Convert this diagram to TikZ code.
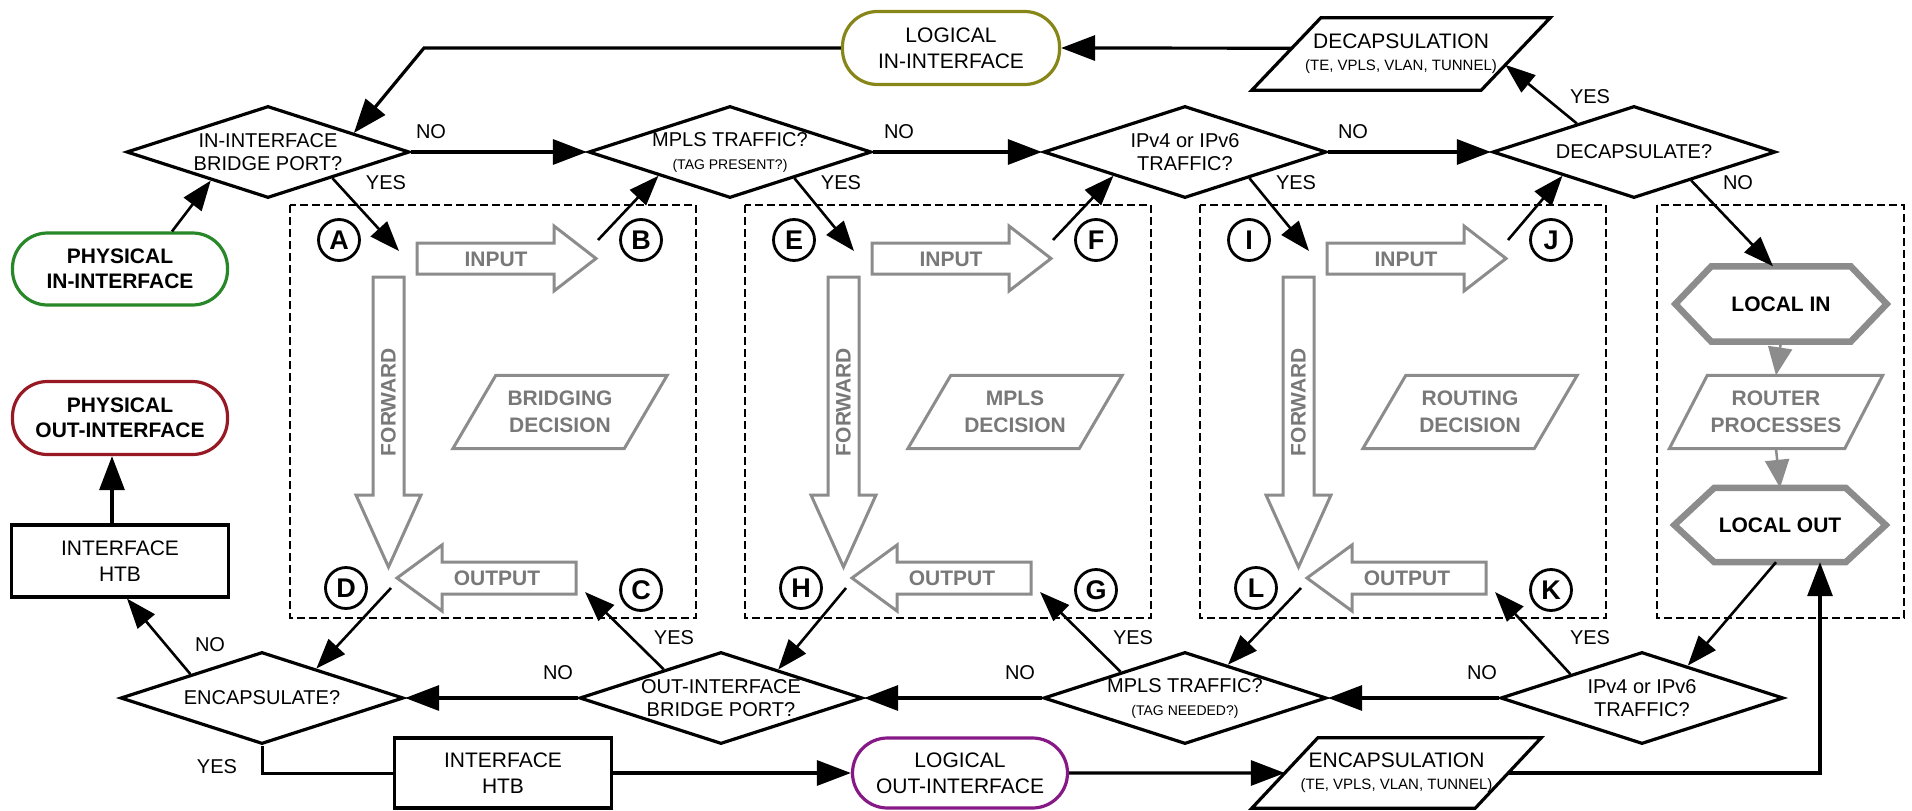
\documentclass[tikz,border=0pt]{standalone}
\usepackage{fontspec}
\setmainfont{Liberation Sans}
\usetikzlibrary{shapes.geometric,arrows.meta,calc}
\definecolor{gr}{RGB}{140,140,140}
\definecolor{grt}{RGB}{120,120,120}
\definecolor{cgreen}{RGB}{40,135,40}
\definecolor{cred}{RGB}{150,25,35}
\definecolor{colive}{RGB}{135,135,25}
\definecolor{cpurple}{RGB}{135,25,135}
\begin{document}
\begin{tikzpicture}[x=1pt,y=-1pt,
  txt/.style={font=\fontsize{20}{23}\selectfont, align=center, inner sep=0pt},
  xdia/.style={txt, shape=diamond, draw, line width=3.2pt, minimum width=283pt, minimum height=92pt, shape aspect=3.07},
  xterm/.style={txt, font=\fontsize{21}{26}\selectfont, draw, line width=3.2pt, rounded corners=35pt, minimum width=215pt, minimum height=72pt},
  xbox/.style={txt, font=\fontsize{21}{26}\selectfont, draw, line width=3.2pt, minimum width=217pt, minimum height=71pt},
  ptxt/.style={txt, font=\fontsize{21}{22}\selectfont},
  pline/.style={draw, line width=3.2pt, line join=miter},
  gline/.style={draw=gr, line width=3pt, line join=miter},
  hexline/.style={draw=gr, line width=6.5pt, line join=miter},
  gtxt/.style={txt, text=grt, font=\bfseries\fontsize{21}{27}\selectfont},
  ltr/.style={circle, draw, line width=2.8pt, minimum size=41pt, inner sep=0pt, font=\bfseries\fontsize{27}{27}\selectfont},
  arr/.style={line width=3.2pt, -{Triangle[length=34pt,width=25pt]}},
  arrt/.style={line width=2.6pt, -{Triangle[length=30pt,width=22pt]}},
  plainline/.style={line width=3pt},
  garr/.style={draw=gr, line width=2.5pt, -{Triangle[length=28pt,width=24pt]}, color=gr},
  lbl/.style={font=\fontsize{20}{22}\selectfont, inner sep=0pt},
  dbox/.style={draw, line width=2.8pt, dash pattern=on 8pt off 4pt}
]
\useasboundingbox (0,0) rectangle (1912,811);

% ---------- dashed frames ----------
\draw[dbox] (290,205) rectangle (696,618);
\draw[dbox] (745,205) rectangle (1151,618);
\draw[dbox] (1200,205) rectangle (1606,618);
\draw[dbox] (1657,205) rectangle (1904,618);

% ---------- the three decision columns ----------
\foreach \o/\n/\la/\lb/\lc/\ld/\dec in {
  0/1/A/B/C/D/{BRIDGING\\DECISION},
  455/2/E/F/G/H/{MPLS\\DECISION},
  910/3/I/J/K/L/{ROUTING\\DECISION}} {
  % input arrow
  \draw[gline] (417+\o,243) -- (554+\o,243) -- (554+\o,226) -- (596+\o,258.5) -- (554+\o,291) -- (554+\o,274) -- (417+\o,274) -- cycle;
  \node[gtxt] (input\n) at (496+\o,259) {INPUT};
  % forward arrow
  \draw[gline] (373+\o,277) -- (404+\o,277) -- (404+\o,495) -- (421+\o,495) -- (388.5+\o,567) -- (356+\o,495) -- (373+\o,495) -- cycle;
  \node[gtxt, rotate=90] (fwd\n) at (388.5+\o,402) {FORWARD};
  % output arrow
  \draw[gline] (576+\o,562) -- (442+\o,562) -- (442+\o,545) -- (397+\o,578) -- (442+\o,611) -- (442+\o,594) -- (576+\o,594) -- cycle;
  \node[gtxt] (output\n) at (497+\o,578) {OUTPUT};
  % decision parallelogram
  \node[gtxt, minimum width=214pt, minimum height=73pt] (dec\n) at (560+\o,412) {\dec};
  \draw[gline] (dec\n.south west) -- ([xshift=43pt]dec\n.north west) -- (dec\n.north east) -- ([xshift=-43pt]dec\n.south east) -- cycle;
  % letters
  \node[ltr] (c\la) at (339+\o,240) {\la};
  \node[ltr] (c\lb) at (641+\o,240) {\lb};
  \node[ltr] (c\lc) at (641+\o,590) {\lc};
  \node[ltr] (c\ld) at (346+\o,588) {\ld};
  % free ends of connectors
  \coordinate (tin\n) at (399+\o,251);
  \coordinate (tout\n) at (598+\o,240);
  \coordinate (bout\n) at (391+\o,588);
  \coordinate (bin\n) at (585+\o,592);
}

% ---------- local box ----------
\node[txt, font=\bfseries\fontsize{21}{24}\selectfont, minimum width=211pt, minimum height=75pt] (localin) at (1781,304) {LOCAL IN};
\draw[hexline] (localin.west) -- ([xshift=36pt]localin.north west) -- ([xshift=-36pt]localin.north east) -- (localin.east) -- ([xshift=-36pt]localin.south east) -- ([xshift=36pt]localin.south west) -- cycle;
\node[gtxt, minimum width=213pt, minimum height=73pt] (router) at (1776,412) {ROUTER\\PROCESSES};
\draw[gline] (router.south west) -- ([xshift=38pt]router.north west) -- (router.north east) -- ([xshift=-38pt]router.south east) -- cycle;
\node[txt, font=\bfseries\fontsize{21}{24}\selectfont, minimum width=211pt, minimum height=74pt] (localout) at (1780,525) {LOCAL OUT};
\draw[hexline] (localout.west) -- ([xshift=40pt]localout.north west) -- ([xshift=-40pt]localout.north east) -- (localout.east) -- ([xshift=-40pt]localout.south east) -- ([xshift=40pt]localout.south west) -- cycle;
\draw[garr] (localin.south) -- (router.north);
\draw[garr] (router.south) -- (localout.north);

% ---------- diamonds ----------
\node[xdia] (d1) at (268,152) {IN-INTERFACE\\BRIDGE PORT?};
\node[xdia] (m1) at (730,152) {MPLS TRAFFIC?\\{\fontsize{14}{16}\selectfont (TAG PRESENT?)}};
\node[xdia] (v1) at (1185,152) {IPv4 or IPv6\\TRAFFIC?};
\node[xdia] (dc) at (1634,152) {DECAPSULATE?};
\node[xdia] (enc) at (262,698) {ENCAPSULATE?};
\node[xdia] (oif) at (721,698) {OUT-INTERFACE\\BRIDGE PORT?};
\node[xdia] (m2) at (1185,698) {MPLS TRAFFIC?\\{\fontsize{14}{16}\selectfont (TAG NEEDED?)}};
\node[xdia] (v2) at (1642,698) {IPv4 or IPv6\\TRAFFIC?};

% ---------- terminals and boxes ----------
\node[xterm, draw=cgreen, font=\bfseries\fontsize{21}{25}\selectfont] (physin) at (120,269) {PHYSICAL\\IN-INTERFACE};
\node[xterm, draw=cred, font=\bfseries\fontsize{21}{25}\selectfont, minimum height=73pt] (physout) at (120,418) {PHYSICAL\\OUT-INTERFACE};
\node[xterm, draw=colive, minimum width=217pt, minimum height=73pt] (login) at (951,48) {LOGICAL\\IN-INTERFACE};
\node[xterm, draw=cpurple, minimum height=70pt] (logout) at (960,773) {LOGICAL\\OUT-INTERFACE};
\node[xbox, minimum height=72pt] (htb1) at (120,561) {INTERFACE\\HTB};
\node[xbox, minimum height=70pt] (htb2) at (503,773) {INTERFACE\\HTB};

% parallelograms
\node[ptxt, minimum width=298pt, minimum height=72pt] (decaps) at (1401,54) {DECAPSULATION\\{\fontsize{15}{16}\selectfont (TE, VPLS, VLAN, TUNNEL)}};
\draw[pline] (decaps.south west) -- ([xshift=69pt]decaps.north west) -- (decaps.north east) -- ([xshift=-69pt]decaps.south east) -- cycle;
\node[ptxt, minimum width=289pt, minimum height=70pt] (encaps) at (1396.5,773) {ENCAPSULATION\\{\fontsize{15}{16}\selectfont (TE, VPLS, VLAN, TUNNEL)}};
\draw[pline] (encaps.south west) -- ([xshift=66pt]encaps.north west) -- (encaps.north east) -- ([xshift=-66pt]encaps.south east) -- cycle;

\coordinate (decL) at ($(decaps.south west)!0.58!([xshift=69pt]decaps.north west)$);
\coordinate (decR) at ($([xshift=-69pt]decaps.south east)!0.35!(decaps.north east)$);
\coordinate (encL) at ($(encaps.south west)!0.5!([xshift=66pt]encaps.north west)$);
\coordinate (encR) at ($([xshift=-66pt]encaps.south east)!0.5!(encaps.north east)$);
\coordinate (fbk) at (424,48);

% ---------- connectors: top row ----------
\draw[arrt] ([xshift=52pt]physin.north) -- ($(d1.west)!0.6!(d1.south)$);
\draw[arr] (d1.east) -- (m1.west);
\draw[arr] (m1.east) -- (v1.west);
\draw[arr] (v1.east) -- (dc.west);
\draw[arrt] ($(d1.south)!0.45!(d1.east)$) -- (tin1);
\draw[arrt] ($(m1.south)!0.45!(m1.east)$) -- (tin2);
\draw[arrt] ($(v1.south)!0.45!(v1.east)$) -- (tin3);
\draw[arrt] (tout1) -- ($(m1.west)!0.5!(m1.south)$);
\draw[arrt] (tout2) -- ($(v1.west)!0.5!(v1.south)$);
\draw[arrt] (tout3) -- ($(dc.west)!0.5!(dc.south)$);
\draw[arrt] ($(dc.west)!0.6!(dc.north)$) -- (decR);
\draw[arrt] ($(dc.south)!0.4!(dc.east)$) -- ([xshift=-8pt]localin.north);
\draw[arr] (decL) -- (login.east);
\draw[arr] (login.west) -- (fbk) -- ($(d1.north)!0.6!(d1.east)$);

% ---------- connectors: bottom row ----------
\draw[arrt] (bout1) -- ($(enc.north)!0.38!(enc.east)$);
\draw[arrt] (bout2) -- ($(oif.north)!0.4!(oif.east)$);
\draw[arrt] (bout3) -- ($(m2.north)!0.3!(m2.east)$);
\draw[arrt] ($(oif.west)!0.6!(oif.north)$) -- (bin1);
\draw[arrt] ($(m2.west)!0.55!(m2.north)$) -- (bin2);
\draw[arrt] ($(v2.west)!0.5!(v2.north)$) -- (bin3);
\draw[arr] (oif.west) -- (enc.east);
\draw[arr] (m2.west) -- (oif.east);
\draw[arr] (v2.west) -- (m2.east);
\draw[arrt] ([xshift=-4pt]localout.south) -- ($(v2.north)!0.32!(v2.east)$);
\draw[arrt] ($(enc.west)!0.5!(enc.north)$) -- ([xshift=7pt]htb1.south);
\draw[arr] ([xshift=-8pt]htb1.north) -- ([xshift=-8pt]physout.south);
\draw[plainline] (enc.south) |- (htb2.west);
\draw[arr] (htb2.east) -- (logout.west);
\draw[arr] (logout.east) -- (encL);
\draw[arr] (encR) -| ([xshift=40pt]localout.south);

% ---------- labels ----------
\node[lbl] (n1) at (431,132) {NO};
\node[lbl] (n2) at (899,132) {NO};
\node[lbl] (n3) at (1353,132) {NO};
\node[lbl] (y1) at (386,183) {YES};
\node[lbl] (y2) at (841,183) {YES};
\node[lbl] (y3) at (1296,183) {YES};
\node[lbl] (y4) at (1590,97) {YES};
\node[lbl] (n4) at (1738,183) {NO};
\node[lbl] (n5) at (210,645) {NO};
\node[lbl] (n6) at (558,673) {NO};
\node[lbl] (y5) at (674,638) {YES};
\node[lbl] (n7) at (1020,673) {NO};
\node[lbl] (y6) at (1133,638) {YES};
\node[lbl] (n8) at (1482,673) {NO};
\node[lbl] (y7) at (1590,638) {YES};
\node[lbl] (y8) at (217,767) {YES};
\end{tikzpicture}
\end{document}
